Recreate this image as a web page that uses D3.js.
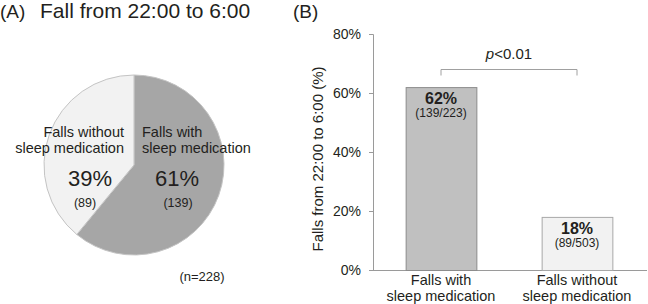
<!DOCTYPE html>
<html><head><meta charset="utf-8">
<script src="https://cdn.jsdelivr.net/npm/d3@7"></script>
<style>body{margin:0;background:#fff}svg{display:block;font-family:"Liberation Sans",Arial,sans-serif}</style>
</head><body>
<svg id="c" width="648" height="304"></svg>
<script>
// Panel A: pie
const pieCategories = ["Falls with sleep medication", "Falls without sleep medication"];
const pieCounts = [139, 89];
const piePercents = ["61%", "39%"];
const pieTotal = "(n=228)";
// Panel B: bars
const barCategories = ["Falls with sleep medication", "Falls without sleep medication"];
const barValues = [62, 18];
const barLabels = ["62%", "18%"];
const barFractions = ["(139/223)", "(89/503)"];
const yTicks = [0, 20, 40, 60, 80];

const svg = d3.select("#c");
const ink = "#231f20";

// Titles
svg.append("text").attr("x", 0).attr("y", 18).attr("font-size", 19).attr("fill", ink).text("(A)");
svg.append("text").attr("x", 40).attr("y", 18).attr("font-size", 21).attr("fill", ink).text("Fall from 22:00 to 6:00");
svg.append("text").attr("x", 293).attr("y", 18).attr("font-size", 19).attr("fill", ink).text("(B)");

// Pie
const cx = 134, cy = 165, r = 90;
const pie = d3.pie().sort(null).value(d => d);
const arcs = pie(pieCounts);
const arc = d3.arc().innerRadius(0).outerRadius(r);
const pieColors = ["#a6a6a6", "#f2f2f2"];
const pg = svg.append("g").attr("transform", `translate(${cx},${cy})`);
pg.selectAll("path").data(arcs).join("path")
  .attr("d", arc).attr("fill", (d, i) => pieColors[i])
  .attr("stroke", "#c4c4c4").attr("stroke-width", 1);

// Pie labels
function multiline(x, y, lines, anchor, size) {
  const t = svg.append("text").attr("text-anchor", anchor).attr("font-size", size).attr("fill", ink);
  lines.forEach((l, i) => t.append("tspan").attr("x", x).attr("y", y + i * 16).text(l));
}
multiline(124, 137, ["Falls without", "sleep medication"], "end", 14.5);
multiline(142, 137, ["Falls with", "sleep medication"], "start", 14.5);
svg.append("text").attr("x", 177).attr("y", 186).attr("text-anchor", "middle").attr("font-size", 22).attr("fill", ink).text(piePercents[0]);
svg.append("text").attr("x", 90).attr("y", 186).attr("text-anchor", "middle").attr("font-size", 22).attr("fill", ink).text(piePercents[1]);
svg.append("text").attr("x", 178).attr("y", 207).attr("text-anchor", "middle").attr("font-size", 12.5).attr("fill", ink).text(`(${pieCounts[0]})`);
svg.append("text").attr("x", 85).attr("y", 207).attr("text-anchor", "middle").attr("font-size", 12.5).attr("fill", ink).text(`(${pieCounts[1]})`);
svg.append("text").attr("x", 202).attr("y", 281).attr("text-anchor", "middle").attr("font-size", 13).attr("fill", ink).text(pieTotal);

// Bar chart
const x0 = 373, x1 = 645, yBottom = 270, yTop = 34;
const x = d3.scaleBand().domain(barCategories).range([x0, x1]).paddingInner(0.48).paddingOuter(0.24);
const y = d3.scaleLinear().domain([0, 80]).range([yBottom, yTop]);
const bg = svg.append("g");
const yAxis = d3.axisLeft(y).tickValues(yTicks).tickFormat(d => d + "%").tickSize(4).tickPadding(8);
const ya = bg.append("g").attr("transform", `translate(${x0},0)`).call(yAxis);
ya.select(".domain").attr("stroke", "#9a9a9a");
ya.selectAll(".tick line").attr("stroke", "#9a9a9a");
ya.selectAll(".tick text").attr("font-size", 14).attr("fill", ink).attr("font-family", "Liberation Sans, Arial, sans-serif");
bg.append("line").attr("x1", x0).attr("x2", x1 + 2).attr("y1", yBottom + 0.5).attr("y2", yBottom + 0.5).attr("stroke", "#9a9a9a");

const barFill = ["#c0c0c0", "#f2f2f2"];
const barStroke = ["#8c8c8c", "#a8a8a8"];
bg.selectAll("rect.bar").data(barValues).join("rect").attr("class", "bar")
  .attr("x", (d, i) => x(barCategories[i]) + 0.5)
  .attr("y", d => y(d) + 0.5)
  .attr("width", x.bandwidth())
  .attr("height", d => yBottom - y(d))
  .attr("fill", (d, i) => barFill[i])
  .attr("stroke", (d, i) => barStroke[i]);

barValues.forEach((v, i) => {
  const cxb = x(barCategories[i]) + x.bandwidth() / 2;
  svg.append("text").attr("x", cxb).attr("y", y(v) + 17).attr("text-anchor", "middle").attr("font-size", 16).attr("font-weight", "bold").attr("fill", ink).text(barLabels[i]);
  svg.append("text").attr("x", cxb).attr("y", y(v) + 30).attr("text-anchor", "middle").attr("font-size", 12).attr("fill", ink).text(barFractions[i]);
  const lines = i === 0 ? ["Falls with", "sleep medication"] : ["Falls without", "sleep medication"];
  multiline(cxb, 285, lines, "middle", 14.5);
});

// Significance bracket
const bx1 = x(barCategories[0]) + x.bandwidth() / 2, bx2 = x(barCategories[1]) + x.bandwidth() / 2;
svg.append("path").attr("d", `M${bx1},75.5V69.5H${bx2}V75.5`).attr("fill", "none").attr("stroke", "#a0a0a0");
const pt = svg.append("text").attr("x", (bx1 + bx2) / 2).attr("y", 59).attr("text-anchor", "middle").attr("font-size", 15).attr("fill", ink);
pt.append("tspan").attr("font-style", "italic").text("p");
pt.append("tspan").text("<0.01");

// Y axis title
svg.append("text").attr("transform", `translate(323,159) rotate(-90)`).attr("text-anchor", "middle").attr("font-size", 15).attr("fill", ink).text("Falls from 22:00 to 6:00 (%)");
</script>
</body></html>
